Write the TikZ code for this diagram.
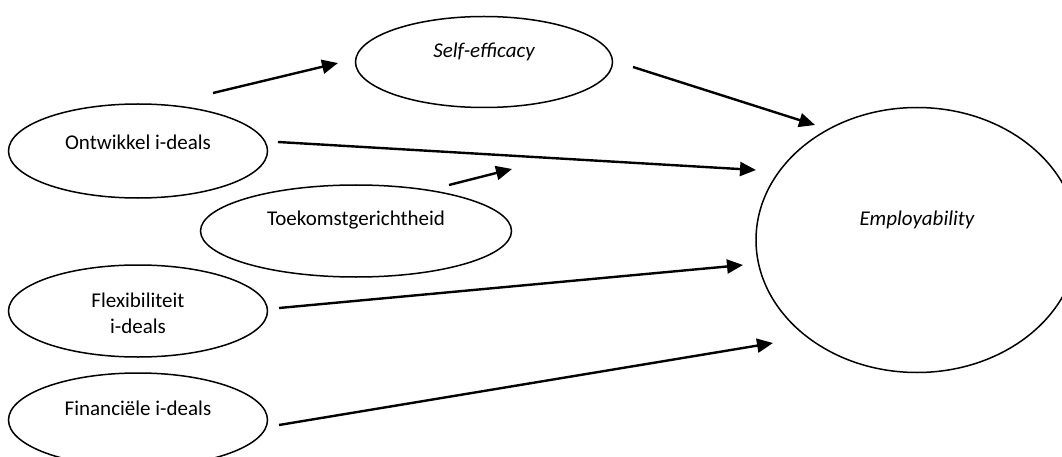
\documentclass[tikz,border=0pt]{standalone}
\usepackage{fontspec}
\setmainfont{Carlito}
\usetikzlibrary{shapes.geometric,arrows.meta}
\tikzset{
  ell/.style={draw, ellipse, line width=1.5pt, inner sep=0pt},
  lab/.style={font=\fontsize{21}{26}\selectfont, align=center},
  conn/.style={line width=2.4pt, -{Triangle[length=16pt,width=14pt]}},
}
\begin{document}
\begin{tikzpicture}[x=1pt,y=-1pt]
\useasboundingbox (0,0) rectangle (1062,457);
\clip (0,0) rectangle (1062,457);
\node[ell, minimum width=257pt, minimum height=91pt, label={[lab,yshift=10pt]center:\itshape Self-efficacy}] (se) at (484,62) {};
\node[ell, minimum width=259pt, minimum height=94pt, label={[lab,yshift=9pt]center:Ontwikkel i-deals}] (ont) at (138,151) {};
\node[ell, minimum width=311pt, minimum height=92pt, label={[lab,yshift=11pt]center:Toekomstgerichtheid}] (toe) at (356,231) {};
\node[ell, minimum width=259pt, minimum height=92pt, label={[lab,yshift=-2pt]center:Flexibiliteit\\i-deals}] (flex) at (138,311) {};
\node[ell, minimum width=259pt, minimum height=94pt, label={[lab,yshift=12pt]center:Financiële i-deals}] (fin) at (138,420) {};
\node[ell, minimum width=322pt, minimum height=265pt, label={[lab,yshift=20pt]center:\itshape Employability}] (emp) at (917,240) {};
% connector end points
\coordinate (a1s) at (213,93);  \coordinate (a1e) at (338,63);
\coordinate (a2s) at (633,67);  \coordinate (a2e) at (815,125);
\coordinate (a3s) at (278,142); \coordinate (a3e) at (756,170);
\coordinate (a4s) at (449,185); \coordinate (a4e) at (512,169);
\coordinate (a5s) at (279,308); \coordinate (a5e) at (743,265);
\coordinate (a6s) at (279,425); \coordinate (a6e) at (773,343);
\draw[conn] (a1s) -- (a1e);
\draw[conn] (a2s) -- (a2e);
\draw[conn] (a3s) -- (a3e);
\draw[conn] (a4s) -- (a4e);
\draw[conn] (a5s) -- (a5e);
\draw[conn] (a6s) -- (a6e);
\end{tikzpicture}
\end{document}
